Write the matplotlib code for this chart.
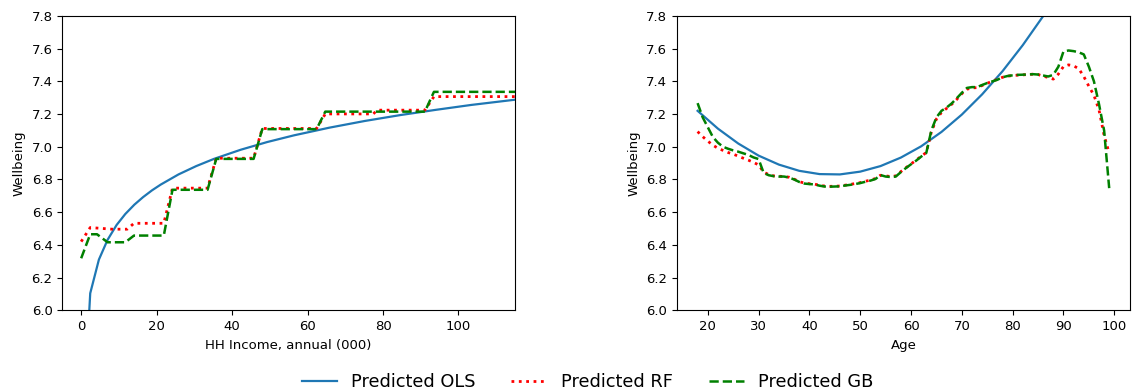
import matplotlib
matplotlib.use("Agg")
import matplotlib.pyplot as plt

# ---------------- data: left panel (HH income) ----------------
income_ols_x = [0.1, 2.4, 4.7, 7.0, 9.4, 11.7, 14.1, 16.4, 18.8, 21.1, 25.8, 30.5,
                35.2, 42.3, 49.3, 56.4, 65.8, 75.2, 84.6, 94.0, 103.4, 115.0]
income_ols_y = [5.131, 6.104, 6.310, 6.431, 6.522, 6.589, 6.646, 6.692, 6.734, 6.769,
                6.831, 6.882, 6.926, 6.982, 7.029, 7.070, 7.117, 7.158, 7.194, 7.226,
                7.256, 7.288]

income_rf_x = [0, 2.4, 8.2, 12.2, 14.0, 21.9, 24.2, 33.5, 35.8, 45.7, 48.0, 62.4,
               64.7, 77.4, 78.5, 91.1, 93.5, 115]
income_rf_y = [6.42, 6.506, 6.496, 6.496, 6.532, 6.532, 6.747, 6.747, 6.93, 6.93,
               7.112, 7.112, 7.201, 7.201, 7.224, 7.224, 7.307, 7.307]

income_gb_x = [0, 2.4, 4.2, 7.0, 11.7, 14.0, 21.9, 24.2, 33.5, 35.8, 45.7, 48.0,
               62.4, 64.7, 77.4, 91.1, 93.5, 115]
income_gb_y = [6.318, 6.465, 6.465, 6.416, 6.416, 6.457, 6.457, 6.737, 6.737, 6.926,
               6.926, 7.108, 7.108, 7.215, 7.215, 7.215, 7.336, 7.336]

# ---------------- data: right panel (Age) ----------------
age_ols_x = [18, 22, 26, 30, 34, 38, 42, 46, 50, 54, 58, 62, 66, 70, 74, 78, 82,
             86, 90, 94, 99]
age_ols_y = [7.220, 7.111, 7.020, 6.946, 6.891, 6.853, 6.833, 6.831, 6.848, 6.882,
             6.934, 7.003, 7.091, 7.197, 7.321, 7.462, 7.622, 7.799, 7.994, 8.208,
             8.499]

ages = list(range(18, 100))
age_rf_y = [7.093, 7.062, 7.035, 7.010, 6.991, 6.978, 6.965, 6.955, 6.943, 6.930,
            6.918, 6.905, 6.889, 6.845, 6.830, 6.822, 6.820, 6.818, 6.814, 6.802,
            6.787, 6.778, 6.774, 6.772, 6.764, 6.760, 6.758, 6.759, 6.760, 6.765,
            6.770, 6.775, 6.781, 6.789, 6.796, 6.806, 6.826, 6.822, 6.818, 6.822,
            6.848, 6.872, 6.895, 6.918, 6.942, 6.965, 7.090, 7.170, 7.210, 7.235,
            7.260, 7.290, 7.325, 7.352, 7.360, 7.362, 7.375, 7.388, 7.402, 7.412,
            7.425, 7.432, 7.436, 7.438, 7.440, 7.442, 7.444, 7.442, 7.432, 7.424,
            7.414, 7.445, 7.491, 7.501, 7.495, 7.478, 7.430, 7.370, 7.315, 7.225,
            7.070, 6.960]
age_gb_y = [7.267, 7.180, 7.120, 7.060, 7.025, 7.000, 6.988, 6.978, 6.970, 6.960,
            6.950, 6.935, 6.925, 6.840, 6.826, 6.820, 6.818, 6.818, 6.812, 6.800,
            6.785, 6.775, 6.772, 6.770, 6.762, 6.757, 6.756, 6.757, 6.758, 6.763,
            6.767, 6.772, 6.778, 6.786, 6.793, 6.803, 6.827, 6.818, 6.815, 6.818,
            6.845, 6.870, 6.893, 6.915, 6.940, 6.962, 7.100, 7.180, 7.220, 7.240,
            7.265, 7.297, 7.330, 7.360, 7.365, 7.365, 7.378, 7.390, 7.400, 7.410,
            7.425, 7.433, 7.437, 7.440, 7.441, 7.442, 7.444, 7.442, 7.436, 7.430,
            7.440, 7.490, 7.583, 7.589, 7.585, 7.578, 7.565, 7.490, 7.400, 7.260,
            7.100, 6.747]

income_ticks = [0, 20, 40, 60, 80, 100]
age_ticks = [20, 30, 40, 50, 60, 70, 80, 90, 100]
y_ticks = [6.0, 6.2, 6.4, 6.6, 6.8, 7.0, 7.2, 7.4, 7.6, 7.8]
labels = ["Predicted OLS", "Predicted RF", "Predicted GB"]

plt.rcParams["font.size"] = 9.5

fig = plt.figure(figsize=(11.39, 3.90), dpi=100)
ax1 = fig.add_axes([0.0547, 0.2044, 0.3975, 0.7546])
ax2 = fig.add_axes([0.5944, 0.2044, 0.3975, 0.7546])

l1, = ax1.plot(income_ols_x, income_ols_y, color="C0", lw=1.6)
l2, = ax1.plot(income_rf_x, income_rf_y, color="red", ls=":", lw=2)
l3, = ax1.plot(income_gb_x, income_gb_y, color="green", ls="--", lw=1.8)
ax1.set_xlim(-5, 115)
ax1.set_ylim(6.0, 7.8)
ax1.set_xticks(income_ticks)
ax1.set_yticks(y_ticks)
ax1.set_xlabel("HH Income, annual (000)")
ax1.set_ylabel("Wellbeing")

ax2.plot(age_ols_x, age_ols_y, color="C0", lw=1.6)
ax2.plot(ages, age_rf_y, color="red", ls=":", lw=2)
ax2.plot(ages, age_gb_y, color="green", ls="--", lw=1.8)
ax2.set_xlim(13.95, 103.05)
ax2.set_ylim(6.0, 7.8)
ax2.set_xticks(age_ticks)
ax2.set_yticks(y_ticks)
ax2.set_xlabel("Age")
ax2.set_ylabel("Wellbeing")

fig.legend([l1, l2, l3], labels, loc="center", bbox_to_anchor=(0.516, 0.021),
           ncol=3, frameon=False, fontsize=12.8)

fig.savefig("out.png", dpi=100)
